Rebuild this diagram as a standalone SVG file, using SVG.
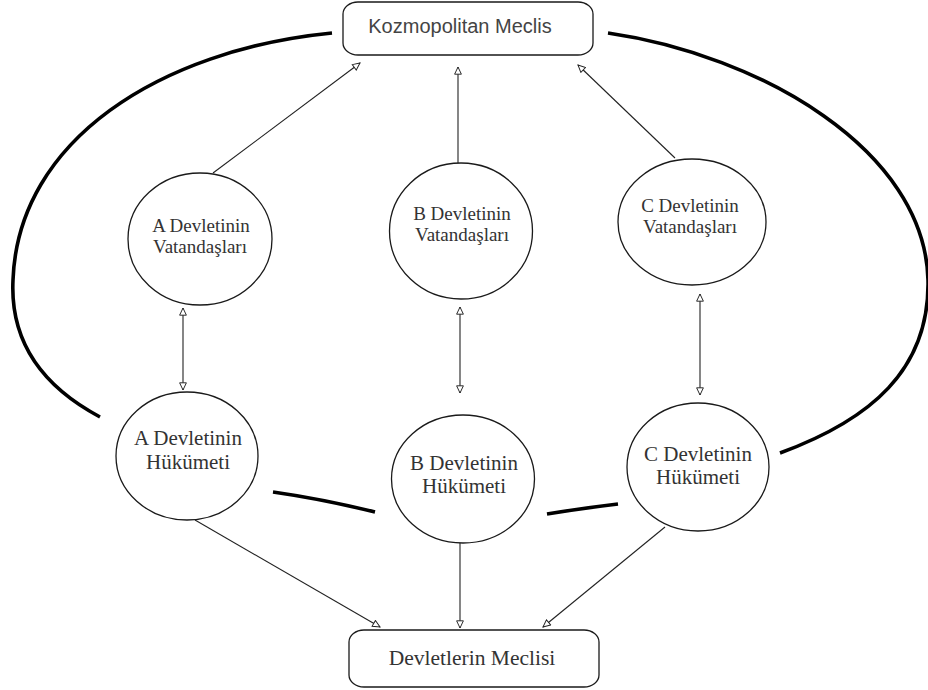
<svg xmlns="http://www.w3.org/2000/svg" width="928" height="690" viewBox="0 0 928 690">
<style>
.bg{fill:#ffffff}
.node{fill:#ffffff;stroke:#1a1a1a;stroke-width:1.3}
.lbl{font-family:"Liberation Serif","Times New Roman",serif;fill:#333333;text-anchor:middle}
.sm{font-size:19px}
.lg{font-size:21px}
.box{font-family:"Liberation Sans",Arial,sans-serif;font-size:20px;fill:#444444;text-anchor:middle}
.arr{fill:none;stroke:#222222;stroke-width:1.1}
.ring{fill:none;stroke:#000000;stroke-width:3.6;stroke-linecap:butt}
</style>
<defs>
<marker id="tri" viewBox="0 0 10 10" refX="9.5" refY="5" markerWidth="10" markerHeight="8" markerUnits="userSpaceOnUse" orient="auto-start-reverse">
<path d="M0.5,0.8 L9.5,5 L0.5,9.2 z" fill="#ffffff" stroke="#222222" stroke-width="1.2"/>
</marker>
</defs>
<rect class="bg" x="0" y="0" width="928" height="690"/>
<g id="connectors">
<path class="ring" d="M332,33 C160,50 18,140 13,280 C10,340 40,385 100,417"/>
<path class="ring" d="M608,33 C760,55 925,150 928,280 C930,370 870,420 780,453"/>
<path class="ring" d="M273,492 Q322,499 375,512"/>
<path class="ring" d="M547,514 Q584,508 618,504"/>
<line class="arr" x1="213" y1="173" x2="360" y2="63" marker-end="url(#tri)"/>
<line class="arr" x1="458" y1="163" x2="458" y2="67" marker-end="url(#tri)"/>
<line class="arr" x1="675" y1="158" x2="578" y2="65" marker-end="url(#tri)"/>
<line class="arr" x1="183" y1="308" x2="183" y2="390" marker-start="url(#tri)" marker-end="url(#tri)"/>
<line class="arr" x1="460" y1="307" x2="460" y2="393" marker-start="url(#tri)" marker-end="url(#tri)"/>
<line class="arr" x1="700" y1="294" x2="700" y2="395" marker-start="url(#tri)" marker-end="url(#tri)"/>
<line class="arr" x1="195" y1="520" x2="380" y2="627" marker-end="url(#tri)"/>
<line class="arr" x1="460" y1="543" x2="460" y2="628" marker-end="url(#tri)"/>
<line class="arr" x1="665" y1="527" x2="543" y2="627" marker-end="url(#tri)"/>
</g>
<g id="kozmopolitan-meclis">
<rect class="node" x="343" y="2" width="250" height="53" rx="15" ry="12"/>
<text class="box" x="460" y="33">Kozmopolitan Meclis</text>
</g>
<g id="a-vatandaslari">
<ellipse class="node" cx="200" cy="239" rx="72" ry="66"/>
<text class="lbl sm" x="201" y="232">A Devletinin</text>
<text class="lbl sm" x="200" y="253">Vatandaşları</text>
</g>
<g id="b-vatandaslari">
<ellipse class="node" cx="461" cy="231" rx="71.5" ry="68"/>
<text class="lbl sm" x="462" y="220">B Devletinin</text>
<text class="lbl sm" x="462" y="241">Vatandaşları</text>
</g>
<g id="c-vatandaslari">
<ellipse class="node" cx="692" cy="222" rx="74" ry="63"/>
<text class="lbl sm" x="690" y="212">C Devletinin</text>
<text class="lbl sm" x="690" y="233">Vatandaşları</text>
</g>
<g id="a-hukumeti">
<ellipse class="node" cx="187" cy="456" rx="71" ry="64"/>
<text class="lbl lg" x="188" y="445">A Devletinin</text>
<text class="lbl lg" x="188" y="469">Hükümeti</text>
</g>
<g id="b-hukumeti">
<ellipse class="node" cx="463" cy="479" rx="71.5" ry="64"/>
<text class="lbl lg" x="464" y="470">B Devletinin</text>
<text class="lbl lg" x="464" y="493">Hükümeti</text>
</g>
<g id="c-hukumeti">
<ellipse class="node" cx="698" cy="467" rx="71" ry="64"/>
<text class="lbl lg" x="698" y="461">C Devletinin</text>
<text class="lbl lg" x="698" y="484">Hükümeti</text>
</g>
<g id="devletlerin-meclisi">
<rect class="node" x="349" y="630" width="250" height="57" rx="15" ry="12"/>
<text class="lbl" x="472" y="665" style="font-size:21.5px">Devletlerin Meclisi</text>
</g>
</svg>
